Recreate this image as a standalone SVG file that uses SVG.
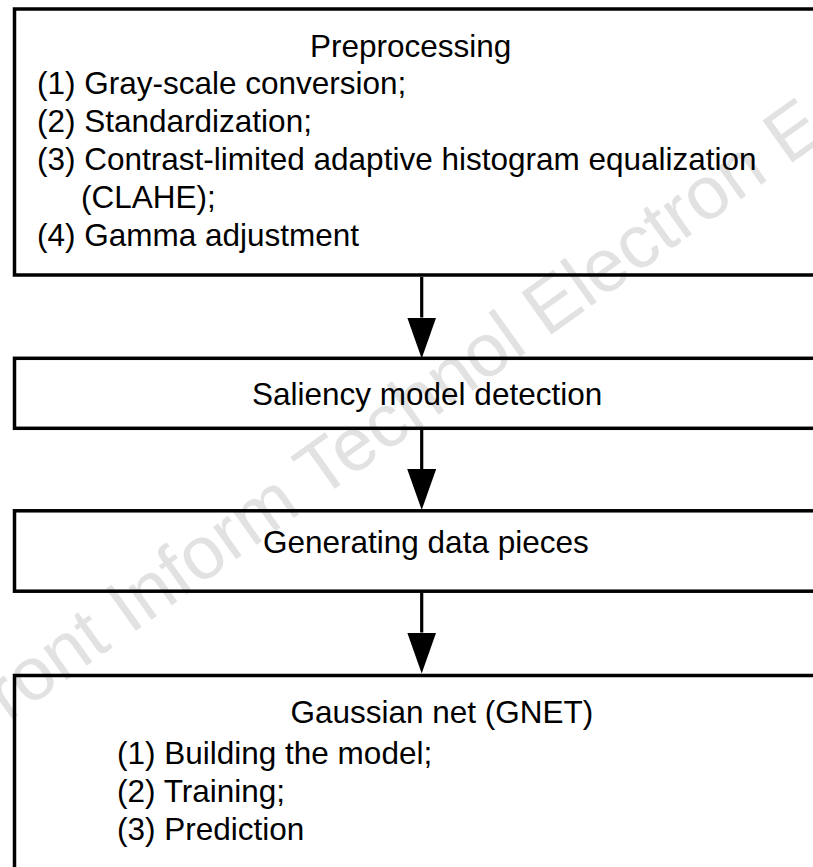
<svg xmlns="http://www.w3.org/2000/svg" width="813" height="867" viewBox="0 0 813 867">
  <style>
    .box { fill: none; stroke: #000; stroke-width: 3.5; }
    .lbl { font-family: "Liberation Sans", Arial, sans-serif; font-size: 31.5px; fill: #000; }
    .wire { fill: none; stroke: #000; stroke-width: 3.2; }
    .mark { font-family: "Liberation Sans", Arial, sans-serif; font-size: 75px; fill: #e2e2e2; }
  </style>
  <defs>
    <marker id="head" markerUnits="userSpaceOnUse" viewBox="0 0 41 29" markerWidth="41" markerHeight="29" refX="0" refY="14.5" orient="auto">
      <path d="M0,0 L41,14.5 L0,29 Z" fill="#000"/>
    </marker>
  </defs>

  <rect width="813" height="867" fill="#fff"/>

  <!-- faint background imprint -->
  <text class="mark" transform="translate(8,722) rotate(-35.5)">ront Inform Technol Electron E</text>

  <g id="preprocessing">
    <rect class="box" x="14.5" y="9" width="830" height="266"/>
    <text class="lbl" x="310" y="56.5">Preprocessing</text>
    <text class="lbl" x="37" y="94">(1) Gray-scale conversion;</text>
    <text class="lbl" x="37" y="132">(2) Standardization;</text>
    <text class="lbl" x="37" y="170">(3) Contrast-limited adaptive histogram equalization</text>
    <text class="lbl" x="81" y="208">(CLAHE);</text>
    <text class="lbl" x="37" y="246">(4) Gamma adjustment</text>
  </g>

  <g id="saliency">
    <rect class="box" x="14.5" y="358.3" width="830" height="70"/>
    <text class="lbl" x="252" y="405">Saliency model detection</text>
  </g>

  <g id="pieces">
    <rect class="box" x="14.5" y="510.8" width="830" height="80.4"/>
    <text class="lbl" x="263" y="553.3">Generating data pieces</text>
  </g>

  <g id="gnet">
    <rect class="box" x="14.5" y="675.5" width="830" height="300"/>
    <text class="lbl" x="290.5" y="723.3">Gaussian net (GNET)</text>
    <text class="lbl" x="117" y="763.5">(1) Building the model;</text>
    <text class="lbl" x="117" y="801.5">(2) Training;</text>
    <text class="lbl" x="117" y="839.5">(3) Prediction</text>
  </g>

  <g id="connectors">
    <path class="wire" d="M421.7,277 V317.5" marker-end="url(#head)"/>
    <path class="wire" d="M421.7,430 V469" marker-end="url(#head)"/>
    <path class="wire" d="M421.7,593 V632.5" marker-end="url(#head)"/>
  </g>
</svg>
